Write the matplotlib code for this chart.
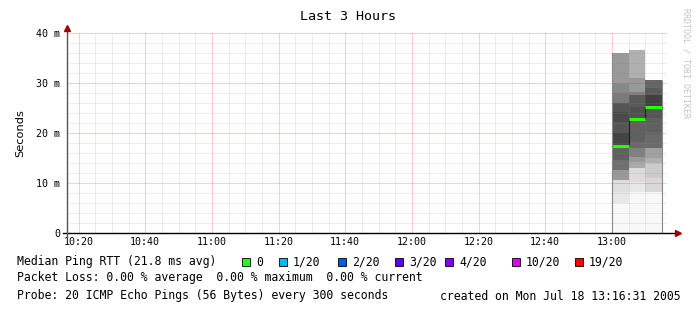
import matplotlib
matplotlib.use("Agg")
import matplotlib.pyplot as plt
import numpy as np

### Data
def hms(s):
    p = [int(v) for v in s.split(":")]
    return p[0]*3600 + p[1]*60 + (p[2] if len(p) > 2 else 0)

t_start = hms("10:16:31")
t_end = hms("13:16:31")
step = 300  # seconds per sample

bar_times = ["13:00", "13:05", "13:10"]
medians = [17.4, 22.9, 25.2]   # ms

# smoke bands per sample: band edges (ms) and grey level of each band
bar1_edges = [0, 6, 8.2, 10.6, 12.6, 14.6, 17.2, 18, 20, 22.2, 24.2, 26, 28, 29.8, 36.1]
bar1_grey = [248, 232, 222, 153, 112, 96, 68, 68, 85, 74, 85, 122, 136, 153]
bar2_edges = [0, 8.2, 10.2, 13, 14.2, 15.2, 17, 18.2, 22.9, 25.2, 27.6, 28.2, 31, 36.6]
bar2_grey = [248, 232, 220, 170, 153, 128, 106, 96, 80, 90, 128, 153, 176]
bar3_edges = [0, 8.2, 11, 14, 15, 17, 20.2, 23, 25.2, 27.6, 29, 30.6]
bar3_grey = [248, 216, 204, 176, 160, 106, 96, 85, 64, 90, 102]

smoke_edges = [bar1_edges, bar2_edges, bar3_edges]
smoke_grey = [bar1_grey, bar2_grey, bar3_grey]

y_ticks = [0, 10, 20, 30, 40]
y_labels = ["0", "10 m", "20 m", "30 m", "40 m"]
x_tick_labels = ["10:20", "10:40", "11:00", "11:20", "11:40", "12:00", "12:20", "12:40", "13:00"]

loss_labels = ["0", "1/20", "2/20", "3/20", "4/20", "10/20", "19/20"]
loss_colors = ["#26ff00", "#00b8ff", "#0059ff", "#5e00ff", "#7e00ff", "#dd00ff", "#ff0000"]
loss_box_x = [242, 279, 338, 395, 445, 512, 575]  # pixel positions of legend boxes

W, H = 697, 313
fig = plt.figure(figsize=(W/100, H/100), dpi=100)
ax = fig.add_axes([67/W, 1-233/H, 600/W, 200/H])
ax.set_xlim(t_start, t_end)
ax.set_ylim(0, 40)

### smoke
bt = [hms(b) for b in bar_times]
for t, edges, greys in zip(bt, smoke_edges, smoke_grey):
    e = np.array(edges)
    cols = [(g/255, g/255, g/255) for g in greys]
    ax.bar(np.full(len(greys), t), np.diff(e), bottom=e[:-1], width=step,
           align="edge", color=cols, linewidth=0, zorder=1)

# edges of the smoke
ax.vlines([bt[0], bt[-1]+step], 0, [smoke_edges[0][-1], smoke_edges[-1][-1]],
          color="#888888", lw=0.8, zorder=3)

### grid
minor_c = (0.55, 0.55, 0.55, 0.16)
major_c = (1, 0, 0, 0.2)
for s in range(hms("10:20"), t_end, 300):
    major = (s - hms("10:20")) % 1200 == 0
    ax.axvline(s, color=major_c if major else minor_c, lw=0.7, zorder=2)
for v in range(2, 41, 2):
    major = v % 10 == 0
    ax.axhline(v, color=major_c if major else minor_c, lw=0.7, zorder=2)

### median
xs = bt + [bt[-1] + step]
ax.plot(xs, medians + [medians[-1]], drawstyle="steps-post", color="#202020", lw=0.8, zorder=4)
ax.hlines(medians, bt, [b + step for b in bt], color="#26ff00", lw=2.2, zorder=5)

### axes
for s in ax.spines.values():
    s.set_visible(False)
ax.plot([-0.007, 1.017], [0, 0], transform=ax.transAxes, color="black", lw=1, clip_on=False, zorder=6)
ax.plot([0, 0], [-0.02, 1.02], transform=ax.transAxes, color="#555555", lw=1, clip_on=False, zorder=6)
ax.plot([1.019], [0], transform=ax.transAxes, marker=">", ms=4, color="#a00000", clip_on=False, zorder=7)
ax.plot([0], [1.025], transform=ax.transAxes, marker="^", ms=4, color="#a00000", clip_on=False, zorder=7)

ax.set_xticks([hms(s) for s in x_tick_labels])
ax.set_xticklabels(x_tick_labels, family="DejaVu Sans Mono", fontsize=7.2)
ax.set_yticks(y_ticks)
ax.set_yticklabels(y_labels, family="DejaVu Sans Mono", fontsize=7.2)
ax.tick_params(axis="x", length=0, pad=3)
ax.tick_params(axis="y", length=0, pad=5)
ax.set_ylabel("Seconds", fontsize=8.2, labelpad=8)

### text
mono = dict(family="DejaVu Sans Mono", fontsize=8.3, va="center")
fig.text(348/W, 1-16/H, "Last 3 Hours", ha="center", va="center", family="DejaVu Sans Mono", fontsize=9.6)
fig.text(686/W, 1-63/H, "RRDTOOL / TOBI OETIKER", rotation=270, ha="center", va="center",
         family="DejaVu Sans Mono", fontsize=6, color="#c4c4c4")

fig.text(17/W, 1-262/H, "Median Ping RTT (21.8 ms avg)", ha="left", **mono)
for bx, c, lab in zip(loss_box_x, loss_colors, loss_labels):
    fig.patches.append(plt.Rectangle((bx/W, 1-266/H), 8/W, 8/H, transform=fig.transFigure,
                                     facecolor=c, edgecolor="black", lw=0.6))
    fig.text((bx+14)/W, 1-262/H, lab, ha="left", **mono)
fig.text(17/W, 1-277/H, "Packet Loss: 0.00 % average  0.00 % maximum  0.00 % current", ha="left", **mono)
fig.text(17/W, 1-296/H, "Probe: 20 ICMP Echo Pings (56 Bytes) every 300 seconds", ha="left", **mono)
fig.text(681/W, 1-296/H, "created on Mon Jul 18 13:16:31 2005", ha="right", **mono)

fig.savefig("out.png", dpi=100, facecolor="white")
